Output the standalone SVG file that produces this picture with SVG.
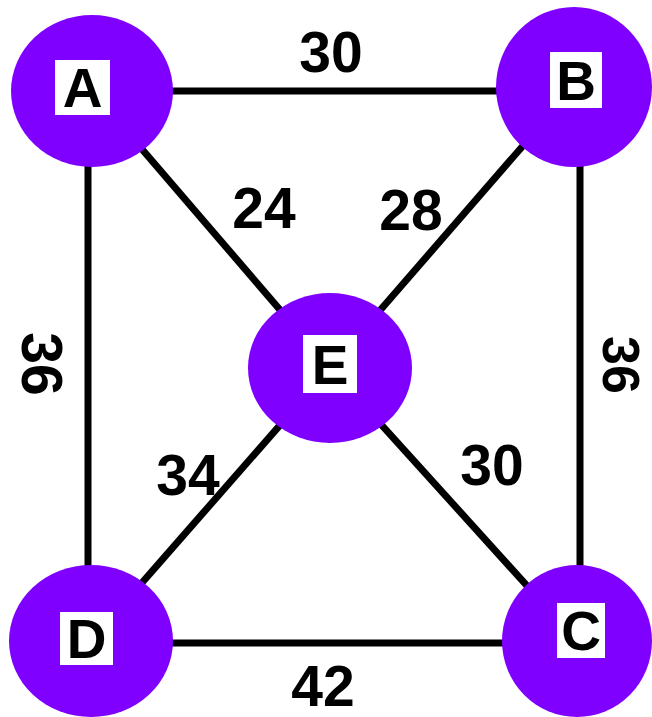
<svg xmlns="http://www.w3.org/2000/svg" width="652" height="717" viewBox="0 0 652 717">
<style>
.edge{stroke:#000;stroke-width:7;fill:none}
.node{fill:#8000ff}
.box{fill:#fff}
.lbl{font-family:"Liberation Sans",Arial,sans-serif;font-weight:bold;font-size:55px;fill:#000;text-anchor:middle}
.w{font-family:"Liberation Sans",Arial,sans-serif;font-weight:bold;font-size:57px;fill:#000;text-anchor:middle}
</style>
<rect width="652" height="717" fill="#fff"/>
<g id="connectors">
<line class="edge" x1="92" y1="91" x2="574" y2="91"/>
<line class="edge" x1="88" y1="91" x2="88" y2="641"/>
<line class="edge" x1="580" y1="87" x2="580" y2="641"/>
<line class="edge" x1="91" y1="643" x2="577" y2="643"/>
<line class="edge" x1="92" y1="91" x2="330" y2="368"/>
<line class="edge" x1="574" y1="87" x2="330" y2="368"/>
<line class="edge" x1="330" y1="368" x2="91" y2="641"/>
<line class="edge" x1="330" y1="368" x2="577" y2="641"/>
</g>
<g id="edge-labels">
<text class="w" x="331" y="72">30</text>
<text class="w" x="264" y="228">24</text>
<text class="w" x="411" y="230">28</text>
<text class="w" x="188" y="495">34</text>
<text class="w" x="492" y="485">30</text>
<text class="w" x="323" y="706">42</text>
<text class="w" transform="translate(22,364) rotate(90)">36</text>
<text class="w" style="font-size:52px" transform="translate(603,365) rotate(90)">36</text>
</g>
<g id="node-A">
<ellipse class="node" cx="92" cy="91" rx="81" ry="76"/>
<rect class="box" x="55" y="60" width="55" height="55"/>
<text class="lbl" x="82.5" y="107">A</text>
</g>
<g id="node-B">
<ellipse class="node" cx="574" cy="87" rx="78" ry="80"/>
<rect class="box" x="550" y="52" width="52" height="56"/>
<text class="lbl" x="576" y="100">B</text>
</g>
<g id="node-E">
<ellipse class="node" cx="330" cy="368" rx="82" ry="75"/>
<rect class="box" x="303" y="335" width="54" height="58"/>
<text class="lbl" x="330" y="384">E</text>
</g>
<g id="node-D">
<ellipse class="node" cx="91" cy="641" rx="82" ry="76"/>
<rect class="box" x="60" y="612" width="53" height="53"/>
<text class="lbl" x="86.5" y="658">D</text>
</g>
<g id="node-C">
<ellipse class="node" cx="577" cy="641" rx="75" ry="76"/>
<rect class="box" x="557" y="603" width="48" height="55"/>
<text class="lbl" x="581" y="650">C</text>
</g>
</svg>
